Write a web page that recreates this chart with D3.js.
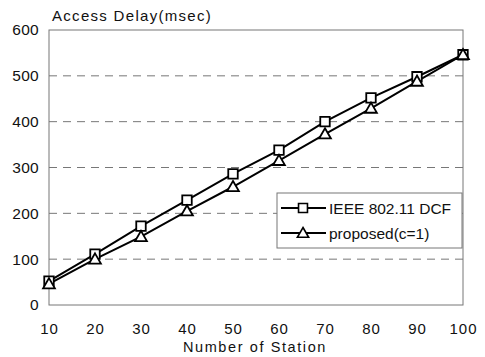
<!DOCTYPE html>
<html>
<head>
<meta charset="utf-8">
<script src="https://cdn.jsdelivr.net/npm/d3@7"></script>
<style>
  body { margin: 0; background: #fff; }
  text { font-family: "Liberation Sans", Arial, sans-serif; fill: #111; }
</style>
</head>
<body>
<svg id="chart" width="485" height="357"></svg>
<script>

  var stations = [10, 20, 30, 40, 50, 60, 70, 80, 90, 100];
  var dcf = [52, 111, 172, 229, 286, 338, 400, 452, 498, 546];
  var proposed = [46, 100, 149, 205, 258, 315, 373, 429, 488, 546];
  var yTicks = [0, 100, 200, 300, 400, 500, 600];

  var svg = d3.select('#chart');

  var plotLeft = 49, plotRight = 463, plotTop = 30, plotBottom = 305;

  var x = d3.scaleLinear().domain([10, 100]).range([plotLeft, plotRight]);
  var y = d3.scaleLinear().domain([0, 600]).range([plotBottom, plotTop]);

  // dashed grid
  svg.append('g')
    .selectAll('line')
    .data(yTicks.filter(function (d) { return d > 0 && d < 600; }))
    .enter().append('line')
      .attr('x1', plotLeft).attr('x2', plotRight)
      .attr('y1', function (d) { return y(d); })
      .attr('y2', function (d) { return y(d); })
      .attr('stroke', '#777')
      .attr('stroke-width', 1)
      .attr('stroke-dasharray', '8,6');

  // frame
  svg.append('rect')
    .attr('x', plotLeft).attr('y', plotTop)
    .attr('width', plotRight - plotLeft).attr('height', plotBottom - plotTop)
    .attr('fill', 'none')
    .attr('stroke', '#777')
    .attr('stroke-width', 1);

  // axes (labels only)
  var yAxis = svg.append('g')
    .attr('transform', 'translate(' + plotLeft + ',0)')
    .call(d3.axisLeft(y).tickValues(yTicks).tickSize(0).tickPadding(10));
  yAxis.select('.domain').remove();
  yAxis.selectAll('text')
    .style('font-size', '15.5px')
    .style('letter-spacing', '0.3px');

  var xAxis = svg.append('g')
    .attr('transform', 'translate(0,' + plotBottom + ')')
    .call(d3.axisBottom(x).tickValues(stations).tickSize(0).tickPadding(18));
  xAxis.select('.domain').remove();
  xAxis.selectAll('text')
    .style('font-size', '15px')
    .style('letter-spacing', '1px');

  svg.append('text')
    .attr('x', 52).attr('y', 21)
    .style('font-size', '15px')
    .style('letter-spacing', '1.3px')
    .text('Access Delay(msec)');

  svg.append('text')
    .attr('x', 255).attr('y', 352)
    .attr('text-anchor', 'middle')
    .style('font-size', '14.5px')
    .style('letter-spacing', '1.6px')
    .text('Number of Station');

  var line = d3.line()
    .x(function (d, i) { return x(stations[i]); })
    .y(function (d) { return y(d); });

  var sq = d3.symbol().type(d3.symbolSquare).size(90);
  var tri = d3.symbol().type(d3.symbolTriangle).size(60);

  var series = [
    { name: 'IEEE 802.11 DCF', values: dcf, sym: sq, dy: 0 },
    { name: 'proposed(c=1)', values: proposed, sym: tri, dy: 1 }
  ];

  series.forEach(function (s) {
    svg.append('path')
      .datum(s.values)
      .attr('d', line)
      .attr('fill', 'none')
      .attr('stroke', '#000')
      .attr('stroke-width', 2);
  });

  series.forEach(function (s) {
    svg.append('g').selectAll('path')
      .data(s.values)
      .enter().append('path')
        .attr('d', s.sym)
        .attr('transform', function (d, i) {
          return 'translate(' + x(stations[i]) + ',' + (y(d) + s.dy) + ')';
        })
        .attr('fill', '#fff')
        .attr('stroke', '#000')
        .attr('stroke-width', 1.8);
  });

  // legend
  var legend = svg.append('g');
  legend.append('rect')
    .attr('x', 277).attr('y', 193)
    .attr('width', 185).attr('height', 55)
    .attr('fill', '#fff')
    .attr('stroke', '#777')
    .attr('stroke-width', 1);

  series.forEach(function (s, i) {
    var ly = 208 + i * 25;
    legend.append('line')
      .attr('x1', 281).attr('x2', 326)
      .attr('y1', ly).attr('y2', ly)
      .attr('stroke', '#000').attr('stroke-width', 2);
    legend.append('path')
      .attr('d', i === 0 ? d3.symbol().type(d3.symbolSquare).size(80) : d3.symbol().type(d3.symbolTriangle).size(55))
      .attr('transform', 'translate(303,' + (ly + (i === 0 ? 0 : 1)) + ')')
      .attr('fill', '#fff')
      .attr('stroke', '#000')
      .attr('stroke-width', 1.6);
    legend.append('text')
      .attr('x', 329).attr('y', ly + 5.5)
      .style('font-size', '15.5px')
      .text(s.name);
  });

</script>
</body>
</html>
